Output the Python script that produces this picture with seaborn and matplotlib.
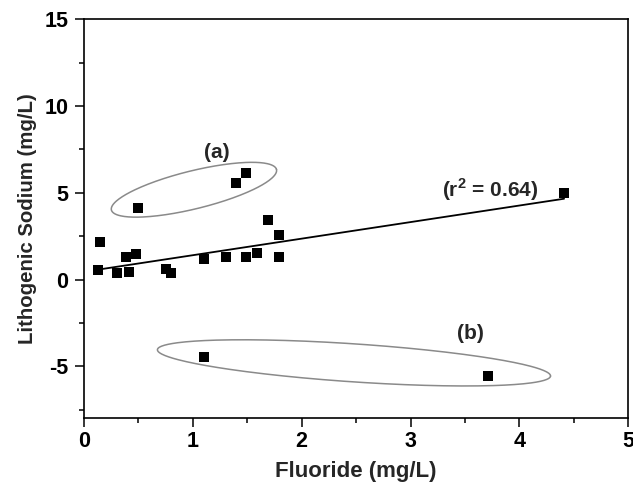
import numpy as np
import pandas as pd
import seaborn as sns
import matplotlib
matplotlib.use("Agg")
import matplotlib.pyplot as plt
from matplotlib.ticker import MultipleLocator

# Sample values: fluoride vs. lithogenic sodium
fluoride = [0.13, 0.15, 0.30, 0.39, 0.41, 0.48, 0.75, 0.80, 1.10, 1.30,
            1.49, 1.59, 1.69, 1.79, 1.79, 4.41,
            0.50, 1.40, 1.49,
            1.10, 3.71]
sodium = [0.54, 2.17, 0.35, 1.31, 0.44, 1.46, 0.63, 0.35, 1.21, 1.31,
          1.31, 1.54, 3.42, 2.56, 1.27, 5.01,
          4.13, 5.58, 6.15,
          -4.46, -5.55]
group = (["main"] * 16) + (["a"] * 3) + (["b"] * 2)

x_ticks = [0, 1, 2, 3, 4, 5]
y_ticks = [-5, 0, 5, 10, 15]

df = pd.DataFrame({"Fluoride": fluoride, "Sodium": sodium, "group": group})

sns.set_theme(style="ticks")
plt.rcParams["font.family"] = ["Liberation Sans", "DejaVu Sans"]
plt.rcParams["font.weight"] = "bold"
plt.rcParams["axes.labelweight"] = "bold"
plt.rcParams["axes.unicode_minus"] = False
plt.rcParams["mathtext.fontset"] = "custom"
plt.rcParams["mathtext.bf"] = "Liberation Sans:bold"
plt.rcParams["mathtext.rm"] = "Liberation Sans:bold"

fig = plt.figure(figsize=(6.33, 4.84), dpi=100)
ax = fig.add_axes([84 / 633, 1 - 418.3 / 484, (628.3 - 84) / 633, (418.3 - 19.3) / 484])

ax.set_xlim(0, 5)
ax.set_ylim(-8, 15)

# Least-squares fit through the main cluster (outlier groups excluded)
sns.regplot(data=df[df["group"] == "main"], x="Fluoride", y="Sodium", ax=ax,
            scatter=False, ci=None, truncate=True,
            line_kws=dict(color="black", lw=1.3))

sns.scatterplot(data=df, x="Fluoride", y="Sodium", ax=ax, marker="s",
                color="black", s=62, edgecolor="black", linewidth=0, zorder=3)

ax.set_xlim(0, 5)
ax.set_ylim(-8, 15)
ax.set_xticks(x_ticks)
ax.set_yticks(y_ticks)
ax.xaxis.set_minor_locator(MultipleLocator(0.5))
ax.yaxis.set_minor_locator(MultipleLocator(2.5))
ax.tick_params(which="major", direction="out", length=6.3, width=1.1,
               labelsize=15.5, colors="black")
ax.tick_params(which="minor", direction="out", length=3.6, width=1.1, colors="black")
ax.tick_params(axis="x", pad=3)
ax.tick_params(axis="y", pad=5)
for lab in ax.get_xticklabels() + ax.get_yticklabels():
    lab.set_fontweight("bold")
for sp in ax.spines.values():
    sp.set_visible(True)
    sp.set_linewidth(1.2)
    sp.set_color("black")

ax.set_xlabel("Fluoride (mg/L)", fontsize=16, fontweight="bold", labelpad=6)
ax.set_ylabel("Lithogenic Sodium (mg/L)", fontsize=14.7, fontweight="bold", labelpad=5)

fig.canvas.draw()


def draw_ellipse(cx, cy, a_px, b_px, angle_deg):
    """Ellipse defined in screen pixels around a data-space centre."""
    x0, y0 = ax.transData.transform((cx, cy))
    t = np.linspace(0, 2 * np.pi, 300)
    th = np.deg2rad(angle_deg)
    px = x0 + a_px * np.cos(t) * np.cos(th) - b_px * np.sin(t) * np.sin(th)
    py = y0 + a_px * np.cos(t) * np.sin(th) + b_px * np.sin(t) * np.cos(th)
    pts = ax.transData.inverted().transform(np.column_stack([px, py]))
    ax.plot(pts[:, 0], pts[:, 1], color="#8a8a8a", lw=1.1, zorder=2)


draw_ellipse(1.01, 5.175, 85, 19, 13.8)
draw_ellipse(2.48, -4.805, 197, 19, -3.84)

ax.text(1.22, 7.3, "(a)", fontsize=15, fontweight="bold", ha="center", va="center")
ax.text(3.55, -3.12, "(b)", fontsize=15, fontweight="bold", ha="center", va="center")
ax.text(3.73, 5.15, r"(r$^{\mathbf{2}}$ = 0.64)", fontsize=15, fontweight="bold",
        ha="center", va="center")

fig.savefig("out.png", dpi=100)
